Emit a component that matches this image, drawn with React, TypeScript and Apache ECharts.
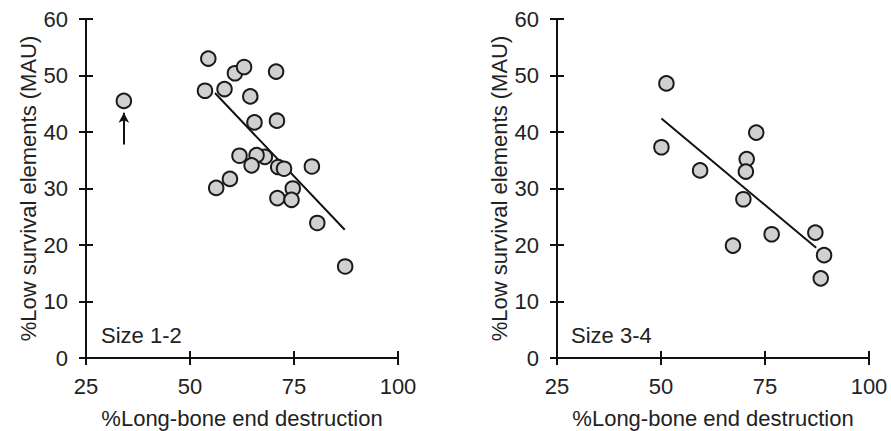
import React, { useEffect, useRef } from "react";
import * as echarts from "echarts";

const xTicks = [25, 50, 75, 100];
const yTicks = [0, 10, 20, 30, 40, 50, 60];

const size12X = [34.1, 54.4, 53.6, 58.3, 60.8, 63.0, 70.7, 64.5, 65.5, 70.9, 61.9, 68.0, 66.0, 64.8, 71.2, 72.6, 79.3, 59.6, 56.3, 74.7, 71.0, 74.4, 80.6, 87.3];
const size12Y = [45.5, 53.0, 47.3, 47.6, 50.4, 51.5, 50.7, 46.3, 41.7, 42.0, 35.8, 35.6, 35.9, 34.1, 33.8, 33.5, 33.9, 31.7, 30.1, 30.0, 28.3, 28.0, 23.9, 16.2];
const size12FitX = [56.0, 87.2];
const size12FitY = [46.9, 22.7];
const size12ArrowX = [34.1, 34.1];
const size12ArrowY = [37.8, 43.4];

const size34X = [51.3, 50.1, 59.4, 72.9, 70.6, 70.4, 69.8, 67.3, 76.6, 87.1, 89.2, 88.4];
const size34Y = [48.6, 37.3, 33.2, 39.9, 35.2, 33.0, 28.1, 19.9, 21.9, 22.2, 18.2, 14.1];
const size34FitX = [50.1, 87.3];
const size34FitY = [42.4, 19.5];

const panelLabels = ["Size 1-2", "Size 3-4"];
const xName = "%Long-bone end destruction";
const yName = "%Low survival elements (MAU)";

const FONT = "'Liberation Sans', Arial, sans-serif";
const TXT = "#222";
const AX = "#111";

const zip = (xs: number[], ys: number[]) => xs.map((x, i) => [x, ys[i]]);

export default function App() {
  const ref = useRef<HTMLDivElement>(null);
  useEffect(() => {
    if (!ref.current) return;
    const chart = echarts.init(ref.current, undefined, { renderer: "svg" });
    const grids = [
      { left: 86, top: 19, width: 312, height: 339, outerBoundsMode: "none", containLabel: false },
      { left: 557, top: 19, width: 312, height: 339, outerBoundsMode: "none", containLabel: false },
    ];
    const xAxes: any[] = [];
    const yAxes: any[] = [];
    grids.forEach((_, gi) => {
      const baseX = {
        type: "value",
        gridIndex: gi,
        min: xTicks[0],
        max: xTicks[xTicks.length - 1],
        interval: 25,
        position: "bottom",
        splitLine: { show: false },
      };
      xAxes.push({
        ...baseX,
        name: xName,
        nameLocation: "middle",
        nameGap: 49,
        nameTextStyle: { fontFamily: FONT, fontSize: 22, lineHeight: 22, color: TXT },
        axisLine: { show: true, lineStyle: { color: AX, width: 2 } },
        axisTick: { show: true, inside: false, length: 7, lineStyle: { color: AX, width: 2 } },
        axisLabel: { fontFamily: FONT, fontSize: 22, color: TXT, margin: 17 },
      });
      xAxes.push({
        ...baseX,
        axisLine: { show: false },
        axisTick: { show: true, inside: true, length: 7, lineStyle: { color: AX, width: 2 } },
        axisLabel: { show: false },
      });
      const baseY = {
        type: "value",
        gridIndex: gi,
        min: yTicks[0],
        max: yTicks[yTicks.length - 1],
        interval: 10,
        position: "left",
        splitLine: { show: false },
      };
      yAxes.push({
        ...baseY,
        name: yName,
        nameLocation: "middle",
        nameGap: 47,
        nameTextStyle: { fontFamily: FONT, fontSize: 22, color: TXT },
        axisLine: { show: true, lineStyle: { color: AX, width: 2 } },
        axisTick: { show: true, inside: false, length: 7, lineStyle: { color: AX, width: 2 } },
        axisLabel: { fontFamily: FONT, fontSize: 22, color: TXT, margin: 18 },
      });
      yAxes.push({
        ...baseY,
        axisLine: { show: false },
        axisTick: { show: true, inside: true, length: 7, lineStyle: { color: AX, width: 2 } },
        axisLabel: { show: false },
      });
    });

    const scatterStyle = {
      type: "scatter",
      symbol: "circle",
      symbolSize: 14.5,
      itemStyle: { color: "#d0d0d0", borderColor: "#1a1a1a", borderWidth: 2, opacity: 1 },
      z: 5,
    };
    const fitStyle = {
      type: "line",
      showSymbol: false,
      symbol: "none",
      lineStyle: { color: "#111", width: 2 },
      z: 3,
    };

    chart.setOption({
      animation: false,
      backgroundColor: "#fff",
      grid: grids,
      xAxis: xAxes,
      yAxis: yAxes,
      graphic: [
        {
          type: "text",
          left: 101,
          top: 324,
          style: { text: panelLabels[0], fontFamily: FONT, fontSize: 22, fill: TXT },
        },
        {
          type: "text",
          left: 571,
          top: 324,
          style: { text: panelLabels[1], fontFamily: FONT, fontSize: 22, fill: TXT },
        },
      ],
      series: [
        { ...fitStyle, xAxisIndex: 0, yAxisIndex: 0, data: zip(size12FitX, size12FitY) },
        {
          ...scatterStyle,
          xAxisIndex: 0,
          yAxisIndex: 0,
          data: zip(size12X, size12Y),
          markLine: {
            silent: true,
            symbol: ["none", "arrow"],
            symbolSize: [8, 10],
            label: { show: false },
            lineStyle: { color: "#111", width: 2, type: "solid" },
            data: [
              [
                { coord: [size12ArrowX[0], size12ArrowY[0]] },
                { coord: [size12ArrowX[1], size12ArrowY[1]] },
              ],
            ],
          },
        },
        { ...fitStyle, xAxisIndex: 2, yAxisIndex: 2, data: zip(size34FitX, size34FitY) },
        { ...scatterStyle, xAxisIndex: 2, yAxisIndex: 2, data: zip(size34X, size34Y) },
      ],
    });
    return () => chart.dispose();
  }, []);
  return (
    <div
      ref={ref}
      style={{ position: "absolute", left: 0, top: 0, width: 891, height: 431, background: "#fff" }}
    />
  );
}
